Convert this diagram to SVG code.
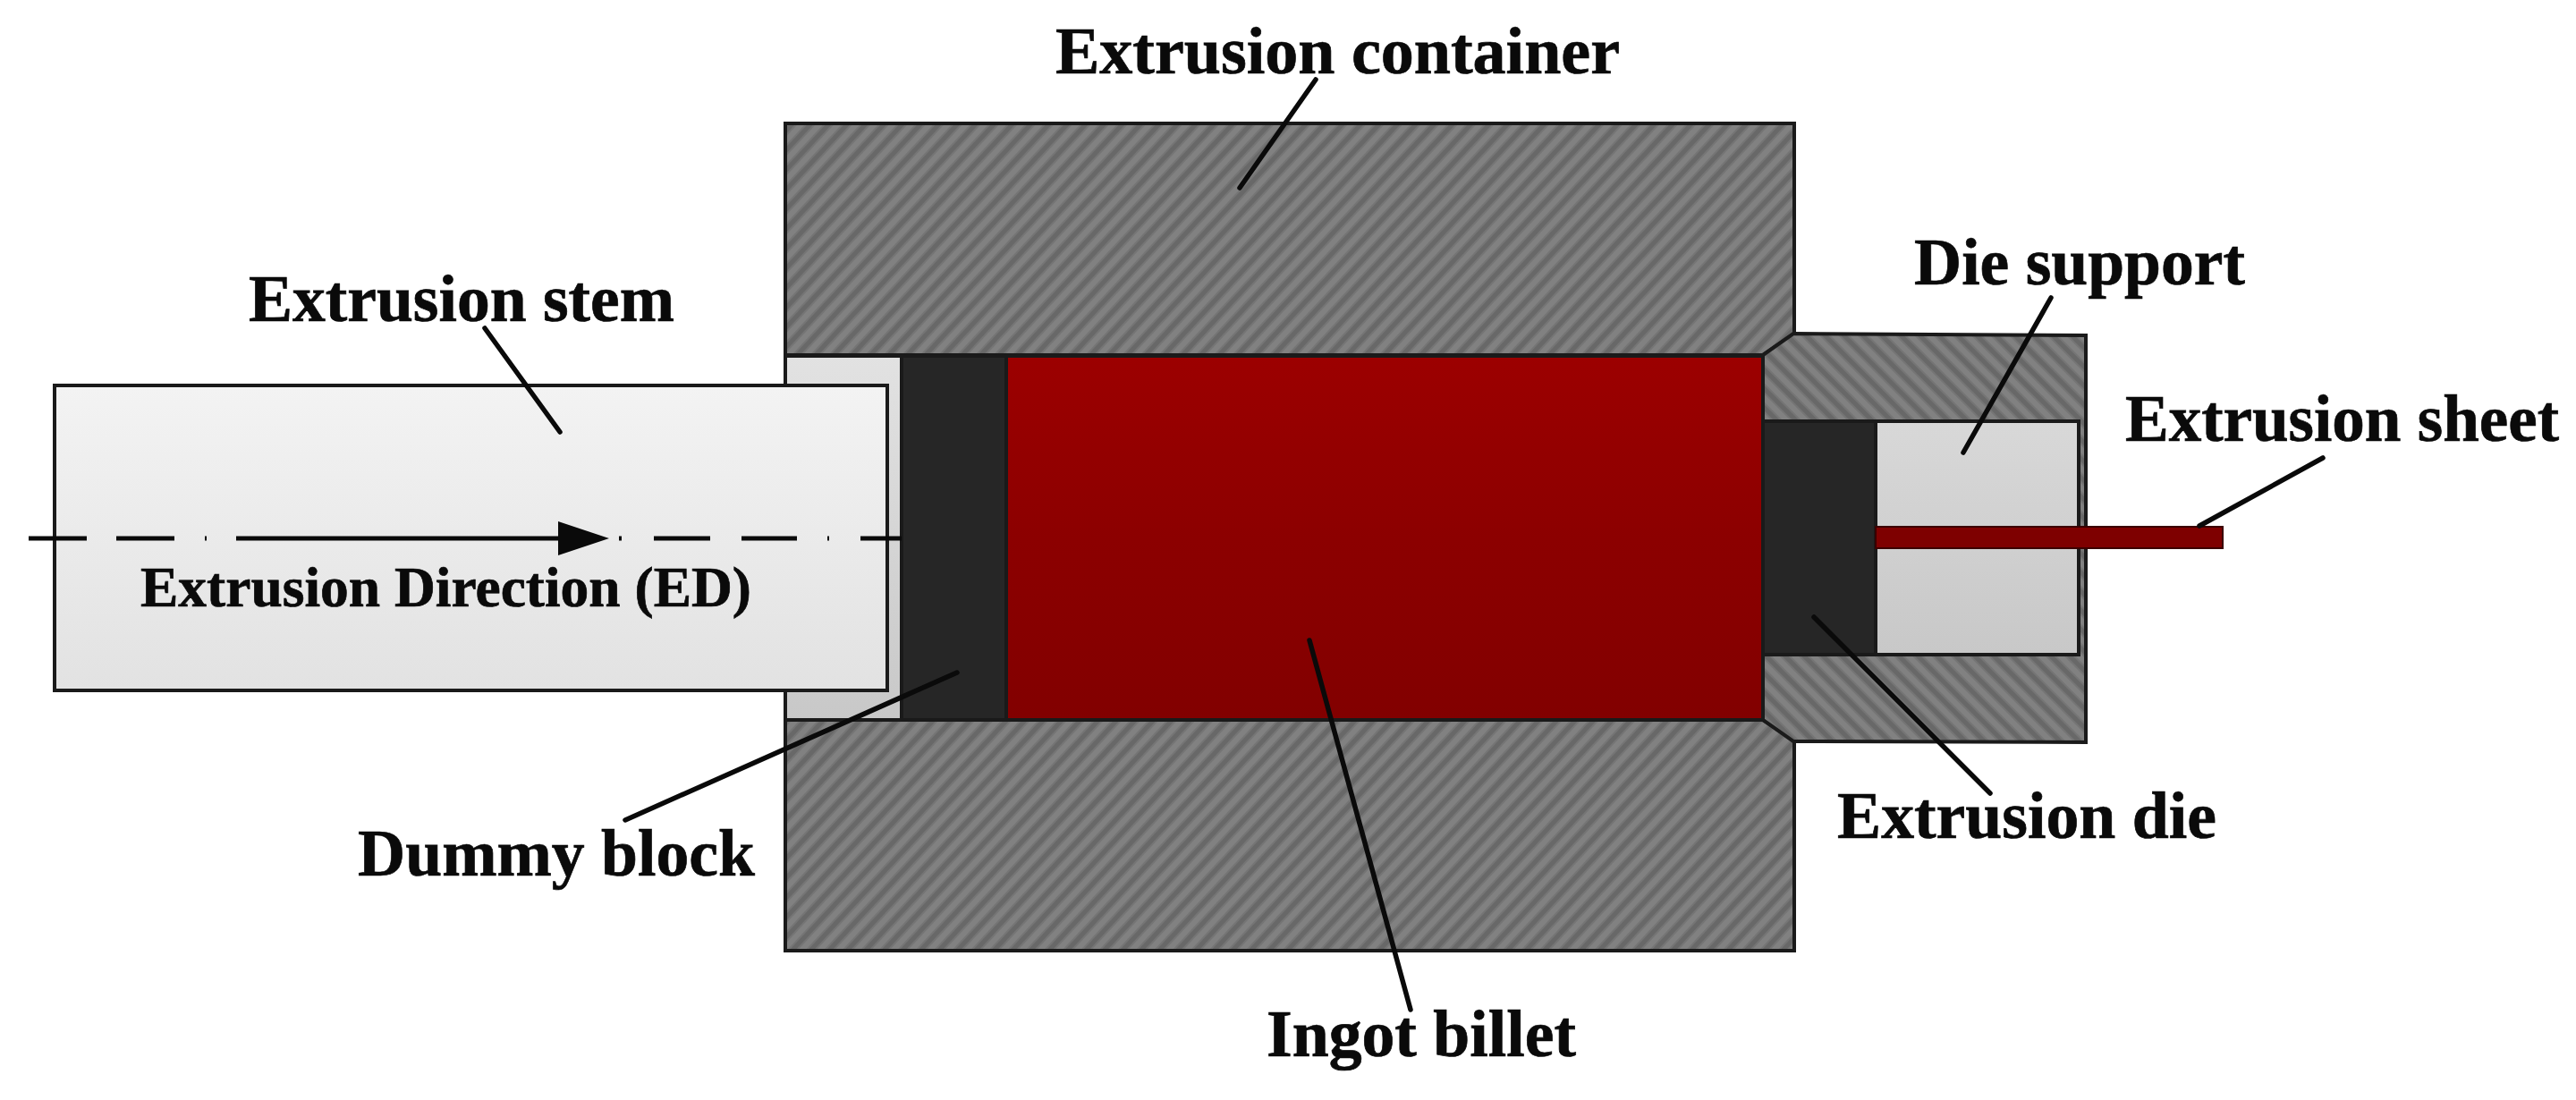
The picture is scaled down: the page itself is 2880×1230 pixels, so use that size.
<svg xmlns="http://www.w3.org/2000/svg" width="2880" height="1230" viewBox="0 0 2880 1230">
<style>
.o{stroke:#1a1a1a;stroke-width:4;stroke-linejoin:miter}
.t{font-family:"Liberation Serif","Times New Roman",serif;font-weight:700;font-size:74px;fill:#0a0a0a;stroke:#0a0a0a;stroke-width:.7}
.l{stroke:#0a0a0a;stroke-width:5.5;fill:none;stroke-linecap:round}
</style>
<defs>
<pattern id="h1" width="15" height="15" patternUnits="userSpaceOnUse" patternTransform="rotate(-47)">
<rect width="15" height="15" fill="#818181"/><rect y="3" width="15" height="2" fill="#757575"/><rect y="5" width="15" height="5" fill="#686868"/><rect y="10" width="15" height="2" fill="#757575"/>
</pattern>
<pattern id="h2" width="15" height="15" patternUnits="userSpaceOnUse" patternTransform="rotate(45)">
<rect width="15" height="15" fill="#818181"/><rect y="3" width="15" height="2" fill="#757575"/><rect y="5" width="15" height="5" fill="#686868"/><rect y="10" width="15" height="2" fill="#757575"/>
</pattern>
<linearGradient id="red" x1="0" y1="0" x2="0" y2="1"><stop offset="0" stop-color="#9c0000"/><stop offset=".5" stop-color="#8c0000"/><stop offset="1" stop-color="#820000"/></linearGradient>
<linearGradient id="stem" x1="0" y1="0" x2="0" y2="1"><stop offset="0" stop-color="#f3f3f3"/><stop offset="1" stop-color="#e2e2e2"/></linearGradient>
<linearGradient id="gap" x1="0" y1="0" x2="0" y2="1"><stop offset="0" stop-color="#e2e2e2"/><stop offset="1" stop-color="#c8c8c8"/></linearGradient>
<linearGradient id="sup" x1="0" y1="0" x2="0" y2="1"><stop offset="0" stop-color="#d8d8d8"/><stop offset="1" stop-color="#c8c8c8"/></linearGradient>
</defs>
<rect width="2880" height="1230" fill="#fff"/>
<g id="container">
<path class="o" fill="url(#h1)" d="M878 138H2006V373L1971 397H878Z"/>
<path class="o" fill="url(#h1)" d="M878 805H1971L2006 828V1063H878Z"/>
<rect class="o" x="878" y="398" width="130" height="407" fill="url(#gap)"/>
</g>
<g id="die-support">
<path class="o" fill="url(#h2)" d="M1971 397L2005 373L2332 375V830L2005 829L1971 805Z"/>
<rect class="o" x="2097" y="471" width="227" height="261" fill="url(#sup)"/>
</g>
<g id="extrusion-die"><rect class="o" x="1971" y="471" width="126" height="261" fill="#262626"/></g>
<g id="dummy-block"><rect class="o" x="1008" y="398" width="117" height="407" fill="#262626"/></g>
<g id="ingot-billet"><rect class="o" x="1125" y="398" width="846" height="407" fill="url(#red)"/></g>
<g id="extrusion-sheet"><rect x="2097" y="589" width="388" height="24" fill="#7e0000" stroke="#3a0000" stroke-width="2"/></g>
<g id="extrusion-stem"><rect class="o" x="61" y="431" width="931" height="341" fill="url(#stem)"/></g>
<g id="extrusion-direction">
<path d="M32 602H97M130 602H195M229 602H231M264 602H624M692 602H695M731 602H794M829 602H891M925 602H927M962 602H1008" stroke="#0a0a0a" stroke-width="5" fill="none"/>
<path d="M624 583L681 602L624 621Z" fill="#0a0a0a"/>
</g>
<g id="connectors">
<path class="l" d="M1471 89L1386 210"/>
<path class="l" d="M542 367L626 483"/>
<path class="l" d="M2293 333L2195 506"/>
<path class="l" d="M2597 512L2459 588"/>
<path class="l" d="M2028 690L2225 887"/>
<path class="l" d="M1070 752L699 917"/>
<path class="l" d="M1464 716L1577 1129"/>
</g>
<g id="labels">
<text class="t" x="1180" y="82" textLength="631" lengthAdjust="spacingAndGlyphs">Extrusion container</text>
<text class="t" x="278" y="359" textLength="476" lengthAdjust="spacingAndGlyphs">Extrusion stem</text>
<text class="t" x="2140" y="318" textLength="370" lengthAdjust="spacingAndGlyphs">Die support</text>
<text class="t" x="2376" y="493" textLength="485" lengthAdjust="spacingAndGlyphs">Extrusion sheet</text>
<text class="t" x="2054" y="937" textLength="424" lengthAdjust="spacingAndGlyphs">Extrusion die</text>
<text class="t" x="400" y="979" textLength="444" lengthAdjust="spacingAndGlyphs">Dummy block</text>
<text class="t" x="1416" y="1181" textLength="346" lengthAdjust="spacingAndGlyphs">Ingot billet</text>
<text class="t" x="157" y="678" textLength="683" lengthAdjust="spacingAndGlyphs" style="font-size:63px">Extrusion Direction (ED)</text>
</g>
</svg>
